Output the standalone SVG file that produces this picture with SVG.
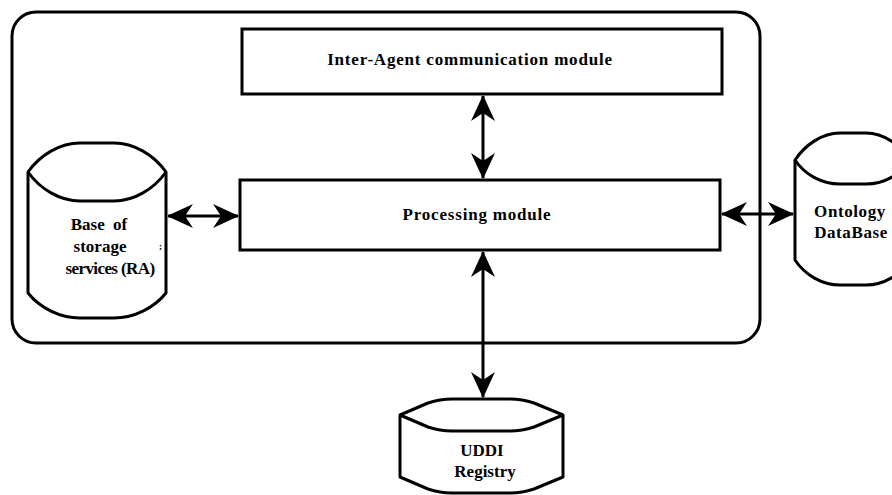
<svg xmlns="http://www.w3.org/2000/svg" width="892" height="495" viewBox="0 0 892 495">
<style>
.box{fill:#fff;stroke:#000;stroke-width:3}
.cyl{fill:#fff;stroke:#000;stroke-width:3;stroke-linejoin:round}
.inner{fill:none;stroke:#000;stroke-width:3}
.lbl{font-family:"Liberation Serif","Times New Roman",serif;font-weight:bold;font-size:17px;fill:#000;text-anchor:middle}
.conn{stroke:#000;stroke-width:3;fill:none;marker-start:url(#ah);marker-end:url(#ah)}
</style>
<defs>
<marker id="ah" viewBox="-28 -14 30 28" refX="0" refY="0" markerWidth="30" markerHeight="28" markerUnits="userSpaceOnUse" orient="auto-start-reverse">
<path d="M1,0 L-25,-12 L-17,0 L-25,12 Z" fill="#000"/>
</marker>
</defs>
<rect width="892" height="495" fill="#fff"/>
<g id="agent">
<rect x="12" y="12" width="748" height="331" rx="24" ry="24" fill="#fff" stroke="#000" stroke-width="3"/>
</g>
<g id="inter-agent">
<rect class="box" x="242" y="29" width="480" height="65"/>
<text class="lbl" x="470" y="65" letter-spacing="0.8">Inter-Agent communication module</text>
</g>
<g id="processing">
<rect class="box" x="240" y="180" width="480" height="70"/>
<text class="lbl" x="477" y="220" letter-spacing="0.8">Processing module</text>
</g>
<g id="storage">
<path class="cyl" d="M28,172 C40,155 60,143 80,143 L114,143 C134,143 154,155 166,172 L166,293 C154,308 134,318 114,318 L80,318 C60,318 40,308 28,293 Z"/>
<path class="inner" d="M28,172 C40,189 60,201 80,201 L114,201 C134,201 154,189 166,172"/>
<text class="lbl" x="99" y="230" word-spacing="4">Base of</text>
<text class="lbl" x="100" y="252">storage</text>
<text class="lbl" x="110" y="274" letter-spacing="-0.6">services (RA)</text>
<text x="159" y="249" font-family="Liberation Serif, serif" font-size="9" font-weight="bold">;</text>
</g>
<g id="ontology">
<path class="cyl" d="M795,160 C805,145 822,133 840,133 L866,133 C884,133 900,145 910,160 L910,260 C900,275 884,285 866,285 L840,285 C822,285 805,275 795,260 Z"/>
<path class="inner" d="M795,160 C805,175 822,184 840,184 L866,184 C884,184 900,175 910,160"/>
<text class="lbl" x="850" y="217" letter-spacing="0.6">Ontology</text>
<text class="lbl" x="851" y="238" letter-spacing="0.6">DataBase</text>
</g>
<g id="uddi">
<path class="cyl" d="M400,415 L428,403 Q440,399 452,399 L510,399 Q522,399 534,403 L563,415 L563,477 L534,489 Q522,493 510,493 L452,493 Q440,493 428,489 L400,477 Z"/>
<path class="inner" d="M400,415 L428,427 Q440,431 452,431 L510,431 Q522,431 534,427 L563,415"/>
<text class="lbl" x="482" y="456">UDDI</text>
<text class="lbl" x="485" y="477">Registry</text>
</g>
<g id="connectors">
<line class="conn" x1="483" y1="96" x2="483" y2="178"/>
<line class="conn" x1="168" y1="216" x2="238" y2="216"/>
<line class="conn" x1="722" y1="214" x2="793" y2="214"/>
<line class="conn" x1="483" y1="252" x2="483" y2="397"/>
</g>
</svg>
